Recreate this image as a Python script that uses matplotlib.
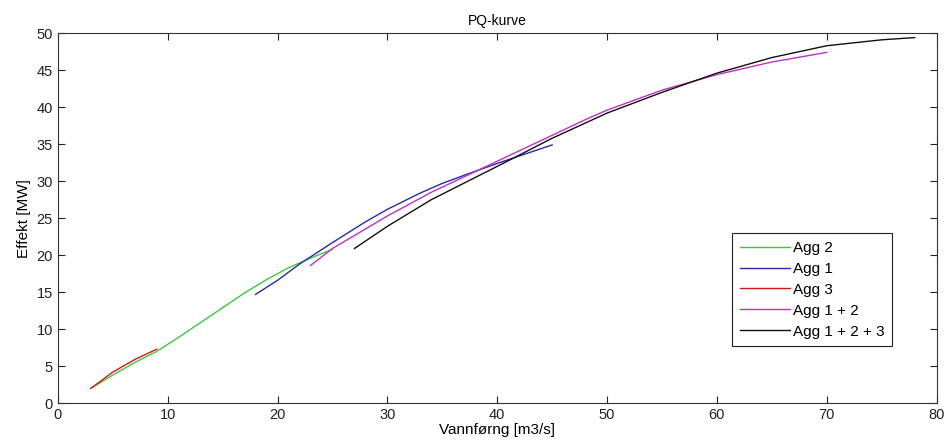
import matplotlib.pyplot as plt

# Agg 2
q_agg2 = [3, 5, 7, 9, 11, 13, 15, 17, 19, 21, 23, 25]
p_agg2 = [2.0, 3.8, 5.5, 7.0, 8.9, 10.9, 12.9, 14.9, 16.7, 18.3, 19.6, 20.8]

# Agg 1
q_agg1 = [18, 20, 22, 25, 28, 30, 33, 35, 37, 40, 43, 45]
p_agg1 = [14.7, 16.6, 18.8, 21.7, 24.5, 26.2, 28.4, 29.7, 30.8, 32.4, 33.9, 34.9]

# Agg 3
q_agg3 = [3, 5, 7, 9]
p_agg3 = [2.0, 4.2, 5.9, 7.3]

# Agg 1 + 2
q_agg12 = [23, 25, 30, 34, 40, 45, 48, 50, 55, 60, 65, 70]
p_agg12 = [18.6, 20.9, 25.3, 28.5, 32.7, 36.2, 38.3, 39.6, 42.3, 44.4, 46.1, 47.4]

# Agg 1 + 2 + 3
q_agg123 = [27, 30, 34, 40, 45, 50, 55, 60, 65, 70, 75, 78]
p_agg123 = [20.9, 23.9, 27.5, 32.0, 35.8, 39.2, 42.0, 44.6, 46.7, 48.3, 49.1, 49.4]

plt.rcParams['font.family'] = ['Liberation Sans', 'DejaVu Sans']
plt.rcParams['font.size'] = 10
plt.rcParams['xtick.direction'] = 'in'
plt.rcParams['ytick.direction'] = 'in'

fig = plt.figure(figsize=(9.48, 4.48), dpi=100)
ax = fig.add_axes([0.061, 0.1, 0.927, 0.826])

ax.plot(q_agg2, p_agg2, color='#3cc83c', lw=1, label='Agg 2')
ax.plot(q_agg1, p_agg1, color='#2828b4', lw=1, label='Agg 1')
ax.plot(q_agg3, p_agg3, color='#d01818', lw=1, label='Agg 3')
ax.plot(q_agg12, p_agg12, color='#c030c0', lw=1, label='Agg 1 + 2')
ax.plot(q_agg123, p_agg123, color='#101010', lw=1, label='Agg 1 + 2 + 3')

ax.set_xlim(0, 80)
ax.set_ylim(0, 50)
ax.set_xticks(range(0, 81, 10))
ax.set_yticks(range(0, 51, 5))
ax.tick_params(top=True, right=True, length=5, colors='#222222', labelsize=10.5)
for s in ax.spines.values():
    s.set_color('#333333')

ax.set_title('PQ-kurve', fontsize=10)
ax.set_xlabel('Vannførng [m3/s]', fontsize=11, labelpad=1)
ax.set_ylabel('Effekt [MW]', fontsize=11, labelpad=4)

leg = ax.legend(loc='lower right', bbox_to_anchor=(0.949, 0.154), fancybox=False,
                edgecolor='#222222', framealpha=1, fontsize=11, handlelength=3.3,
                borderaxespad=0, borderpad=0.5, labelspacing=0.45, handletextpad=0.15)
leg.get_frame().set_linewidth(0.8)

fig.savefig('out.png', dpi=100)
